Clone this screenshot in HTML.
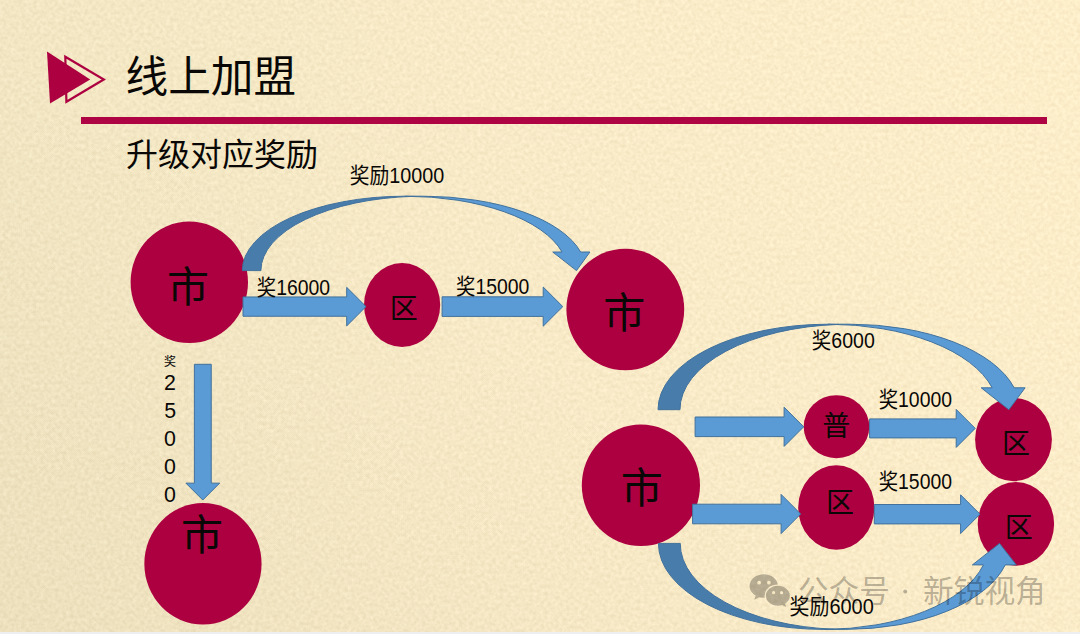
<!DOCTYPE html>
<html lang="zh-CN">
<head>
<meta charset="utf-8">
<title>线上加盟 - 升级对应奖励</title>
<style>
html,body{margin:0;padding:0;}
body{width:1080px;height:634px;overflow:hidden;background:#f6e9c5;font-family:"Liberation Sans",sans-serif;}
#slide{position:relative;width:1080px;height:634px;overflow:hidden;
  background:linear-gradient(to right,#f2e6c3 0%,#f9ebc8 50%,#fdeeca 100%);}
#slide svg{position:absolute;left:0;top:0;display:block;}
#slide svg text{font-family:"Liberation Sans","Noto Sans CJK SC",sans-serif;}
#strip{position:absolute;left:0;top:632px;width:1080px;height:2px;background:#edeff1;}
</style>
</head>
<body>
<div id="slide">
<svg width="1080" height="634" viewBox="0 0 1080 634">
<defs>
<linearGradient id="bgh" x1="0" y1="0" x2="1" y2="0"><stop offset="0" stop-color="#f2e6c3"/><stop offset="0.5" stop-color="#f9ebc8"/><stop offset="1" stop-color="#fdeeca"/></linearGradient>
<linearGradient id="bgv" x1="0" y1="0" x2="0" y2="1"><stop offset="0" stop-color="#3c2800" stop-opacity="0"/><stop offset="1" stop-color="#3c2800" stop-opacity="0.011"/></linearGradient>
<linearGradient id="bgd" x1="0" y1="1" x2="1" y2="0"><stop offset="0" stop-color="#3c2800" stop-opacity="0.021"/><stop offset="0.5" stop-color="#3c2800" stop-opacity="0"/></linearGradient>
<filter id="nz" x="0" y="0" width="100%" height="100%" color-interpolation-filters="sRGB">
<feTurbulence type="fractalNoise" baseFrequency="0.27" numOctaves="2" seed="7"/>
<feColorMatrix type="matrix" values="1 0 0 0 0  1.15 0 0 0 -0.075  1.4 0 0 0 -0.2  0 0 0 0 1" result="n"/>
<feComposite in="SourceGraphic" in2="n" operator="arithmetic" k1="0" k2="1" k3="0.085" k4="-0.0425"/>
</filter></defs>
<g filter="url(#nz)"><rect x="0" y="0" width="1080" height="634" fill="url(#bgh)"/><rect x="0" y="0" width="1080" height="634" fill="url(#bgv)"/><rect x="0" y="0" width="1080" height="634" fill="url(#bgd)"/></g>
<polygon points="47,51.4 90.2,79.5 50,103.5" fill="#ad0040"/>
<polygon points="65.3,56.7 103.8,79.5 66.4,101.8" fill="none" stroke="#ad0040" stroke-width="2.2" stroke-linejoin="miter"/>
<text x="125.51" y="91.7" font-size="42.67" fill="#0a0806">线上加盟</text>
<rect x="81" y="117" width="966" height="7" fill="#ae0443"/>
<text x="126.09" y="166.4" font-size="32" fill="#0a0806">升级对应奖励</text>
<ellipse cx="189.3" cy="282.3" rx="58.7" ry="60.8" fill="#ad0040"/>
<ellipse cx="402.1" cy="305" rx="38.1" ry="42" fill="#ad0040"/>
<ellipse cx="625.3" cy="309.5" rx="58.9" ry="60.75" fill="#ad0040"/>
<ellipse cx="202.95" cy="563.85" rx="58.6" ry="60.75" fill="#ad0040"/>
<text x="167.06" y="301.57" font-size="42" fill="#0a0806">市</text>
<text x="389.81" y="318.5" font-size="28" fill="#0a0806">区</text>
<text x="603.26" y="328.47" font-size="42" fill="#0a0806">市</text>
<path d="M576.5,270.6 L552.74,252 L562.04,252 A162.45,74.4 0 0 0 404.75,196.2 L423.35,196.2 A162.45,74.4 0 0 1 580.64,252 L589.94,252 Z" fill="#5b9bd5"/><path d="M414.05,196.32 A162.45,74.4 0 0 0 260.9,270.6 L242.3,270.6 A162.45,74.4 0 0 1 414.05,196.32 Z" fill="#487cab"/><path d="M414.05,196.32 A162.45,74.4 0 0 0 260.9,270.6 L242.3,270.6 A162.45,74.4 0 0 1 404.75,196.2 L423.35,196.2 A162.45,74.4 0 0 1 580.64,252 L589.94,252 L576.5,270.6 L552.74,252 L562.04,252 A162.45,74.4 0 0 0 404.75,196.2" fill="none" stroke="#41719c" stroke-width="1" stroke-linejoin="miter"/>
<polygon points="243,296.95 346.7,296.95 346.7,287.3 366,306.6 346.7,325.9 346.7,316.25 243,316.25" fill="#5b9bd5" stroke="#41719c" stroke-width="1"/>
<polygon points="442.1,296.8 543.2,296.8 543.2,287 562.8,306.6 543.2,326.2 543.2,316.4 442.1,316.4" fill="#5b9bd5" stroke="#41719c" stroke-width="1"/>
<polygon points="194.38,364.3 211.23,364.3 211.23,483.15 219.65,483.15 202.8,500 185.95,483.15 194.38,483.15" fill="#5b9bd5" stroke="#41719c" stroke-width="1"/>
<text x="349.69" y="182.8" font-size="21.2" fill="#0a0806" textLength="94.5" lengthAdjust="spacingAndGlyphs">奖励10000</text>
<text x="256.79" y="294.8" font-size="21.2" fill="#0a0806" textLength="73.3" lengthAdjust="spacingAndGlyphs">奖16000</text>
<text x="456.09" y="293.6" font-size="21.2" fill="#0a0806" textLength="73.3" lengthAdjust="spacingAndGlyphs">奖15000</text>
<text x="163.88" y="366.4" font-size="12" fill="#0a0806">奖</text>
<text x="164.09" y="390.4" font-size="21.33" fill="#0a0806">2</text>
<text x="164.26" y="418.4" font-size="21.33" fill="#0a0806">5</text>
<text x="163.97" y="446.3" font-size="21.33" fill="#0a0806">0</text>
<text x="163.97" y="474.3" font-size="21.33" fill="#0a0806">0</text>
<text x="163.97" y="502.2" font-size="21.33" fill="#0a0806">0</text>
<text x="180.96" y="550.17" font-size="42" fill="#0a0806">市</text>
<ellipse cx="640.9" cy="485.3" rx="59.1" ry="60.7" fill="#ad0040"/>
<ellipse cx="836.5" cy="426.7" rx="32.8" ry="31.5" fill="#ad0040"/>
<ellipse cx="836.3" cy="507.5" rx="38.1" ry="42.2" fill="#ad0040"/>
<ellipse cx="1013.5" cy="439.5" rx="38.4" ry="41.7" fill="#ad0040"/>
<ellipse cx="1015.9" cy="523.9" rx="38.2" ry="41.8" fill="#ad0040"/>
<path d="M1008.83,409.7 L981.19,387.81 L992.18,387.81 A169.92,85.5 0 0 0 827.92,324.2 L849.89,324.2 A169.92,85.5 0 0 1 1014.15,387.81 L1025.14,387.81 Z" fill="#5b9bd5"/><path d="M838.91,324.38 A169.92,85.5 0 0 0 679.97,409.7 L658,409.7 A169.92,85.5 0 0 1 838.91,324.38 Z" fill="#487cab"/><path d="M838.91,324.38 A169.92,85.5 0 0 0 679.97,409.7 L658,409.7 A169.92,85.5 0 0 1 827.92,324.2 L849.89,324.2 A169.92,85.5 0 0 1 1014.15,387.81 L1025.14,387.81 L1008.83,409.7 L981.19,387.81 L992.18,387.81 A169.92,85.5 0 0 0 827.92,324.2" fill="none" stroke="#41719c" stroke-width="1" stroke-linejoin="miter"/>
<path d="M999.57,543.4 L972.4,564.9 L983.4,564.9 A165.12,86 0 0 1 823.52,629.4 L845.37,629.4 A165.12,86 0 0 0 1005.25,564.9 L1016.26,564.9 Z" fill="#5b9bd5"/><path d="M834.45,629.21 A165.12,86 0 0 1 680.24,543.4 L658.4,543.4 A165.12,86 0 0 0 834.45,629.21 Z" fill="#487cab"/><path d="M834.45,629.21 A165.12,86 0 0 1 680.24,543.4 L658.4,543.4 A165.12,86 0 0 0 823.52,629.4 L845.37,629.4 A165.12,86 0 0 0 1005.25,564.9 L1016.26,564.9 L999.57,543.4 L972.4,564.9 L983.4,564.9 A165.12,86 0 0 1 823.52,629.4" fill="none" stroke="#41719c" stroke-width="1" stroke-linejoin="miter"/>
<polygon points="695.1,417 784.1,417 784.1,407.2 803.7,426.8 784.1,446.4 784.1,436.6 695.1,436.6" fill="#5b9bd5" stroke="#41719c" stroke-width="1"/>
<polygon points="692.6,504.2 781.1,504.2 781.1,494.4 800.7,514 781.1,533.6 781.1,523.8 692.6,523.8" fill="#5b9bd5" stroke="#41719c" stroke-width="1"/>
<polygon points="869.6,418.9 956.2,418.9 956.2,409.4 975.2,428.4 956.2,447.4 956.2,437.9 869.6,437.9" fill="#5b9bd5" stroke="#41719c" stroke-width="1"/>
<polygon points="874.3,504.5 960.6,504.5 960.6,494.8 980,514.2 960.6,533.6 960.6,523.9 874.3,523.9" fill="#5b9bd5" stroke="#41719c" stroke-width="1"/>
<text x="620.76" y="503.17" font-size="42" fill="#0a0806">市</text>
<text x="822.17" y="436.08" font-size="28" fill="#0a0806">普</text>
<text x="825.91" y="512.7" font-size="28" fill="#0a0806">区</text>
<text x="1002.01" y="453.7" font-size="28" fill="#0a0806">区</text>
<text x="1004.71" y="537.7" font-size="28" fill="#0a0806">区</text>
<text x="811.79" y="348" font-size="21.2" fill="#0a0806" textLength="63" lengthAdjust="spacingAndGlyphs">奖6000</text>
<text x="878.69" y="407" font-size="21.2" fill="#0a0806" textLength="73.3" lengthAdjust="spacingAndGlyphs">奖10000</text>
<text x="878.69" y="489.3" font-size="21.2" fill="#0a0806" textLength="73.3" lengthAdjust="spacingAndGlyphs">奖15000</text>
<text x="789.59" y="614.1" font-size="21.2" fill="#0a0806" textLength="84.2" lengthAdjust="spacingAndGlyphs">奖励6000</text>
<defs>
<mask id="wmk" maskUnits="userSpaceOnUse" x="740" y="565" width="60" height="50">
<rect x="740" y="565" width="60" height="50" fill="#fff"/>
<ellipse cx="777.9" cy="595.8" rx="13.3" ry="11.3" fill="#000"/>
<circle cx="759.1" cy="582.7" r="1.9" fill="#000"/><circle cx="768.9" cy="582.7" r="1.9" fill="#000"/>
</mask>
<mask id="wmk2" maskUnits="userSpaceOnUse" x="740" y="565" width="60" height="50">
<rect x="740" y="565" width="60" height="50" fill="#fff"/>
<circle cx="773.6" cy="592.7" r="1.6" fill="#000"/><circle cx="781.6" cy="592.7" r="1.6" fill="#000"/>
</mask>
</defs>
<g fill="#000" fill-opacity="0.27">
<path mask="url(#wmk)" d="M763.8,574.2 C771.7,574.2 778,579.5 778,586 C778,592.5 771.7,597.8 763.8,597.8 C762.2,597.8 760.7,597.6 759.3,597.2 L754.3,599.8 L755.7,595.6 C752,593.4 749.6,589.9 749.6,586 C749.6,579.5 755.9,574.2 763.8,574.2 Z"/>
<path mask="url(#wmk2)" d="M777.9,585.8 C784.5,585.8 789.9,590.3 789.9,595.8 C789.9,599 788,601.9 785.1,603.7 L786.2,607 L782.2,605.1 C780.9,605.5 779.4,605.8 777.9,605.8 C771.3,605.8 765.9,601.3 765.9,595.8 C765.9,590.3 771.3,585.8 777.9,585.8 Z"/>
<text x="797.83" y="602.3" font-size="30.7">公众号</text>
<circle cx="905.2" cy="591.4" r="2"/>
<text x="923.04" y="602.3" font-size="30.7">新锐视角</text>
</g>
</svg>
<div id="strip"></div>
</div>
</body>
</html>
